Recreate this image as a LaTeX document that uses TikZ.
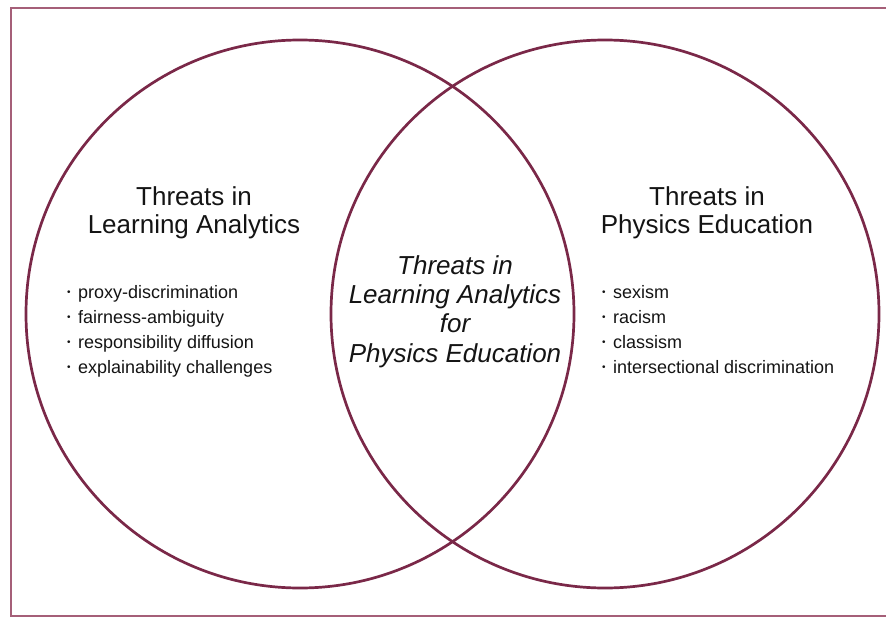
\documentclass[tikz,border=0pt]{standalone}
\usepackage{fontspec}
\setmainfont{Liberation Sans}
\definecolor{maroon}{RGB}{122,40,72}
\definecolor{framecol}{RGB}{165,95,120}
\definecolor{ink}{RGB}{20,20,20}
\newcommand\vbul{\makebox[11pt][l]{\raisebox{2.5pt}{\fontsize{10}{10}\selectfont\textbullet}}}
\tikzset{
  ring/.style={draw=maroon,line width=2.7pt},
  heading/.style={align=center,text=ink,inner sep=0pt,anchor=base,font=\fontsize{26}{28}\selectfont},
  middle/.style={align=center,text=ink,inner sep=0pt,anchor=base,font=\fontsize{26}{29.3}\selectfont\itshape},
  items/.style={align=left,text=ink,inner sep=0pt,anchor=base west,font=\fontsize{18}{25}\selectfont},
}
\begin{document}
\begin{tikzpicture}[x=1pt,y=-1pt]
\useasboundingbox (0,0) rectangle (886,618);
\clip (0,0) rectangle (886,618);
\draw[framecol,line width=1.1pt] (900,8) -- (11,8) -- (11,616) -- (900,616);
\draw[ring] (300,314) circle[radius=274];
\draw[ring] (605,314) circle[radius=274];
\node[heading] (lh) at (194,233) {Threats in\\Learning Analytics};
\node[heading] (rh) at (707,233) {Threats in\\Physics Education};
\node[middle] (mid) at (455,362) {Threats in\\Learning Analytics\\for\\Physics Education};
\node[items] (ll) at (67,373) {\vbul proxy-discrimination\\\vbul fairness-ambiguity\\\vbul responsibility diffusion\\\vbul explainability challenges};
\node[items] (rl) at (602,373) {\vbul sexism\\\vbul racism\\\vbul classism\\\vbul intersectional discrimination};
\end{tikzpicture}
\end{document}
